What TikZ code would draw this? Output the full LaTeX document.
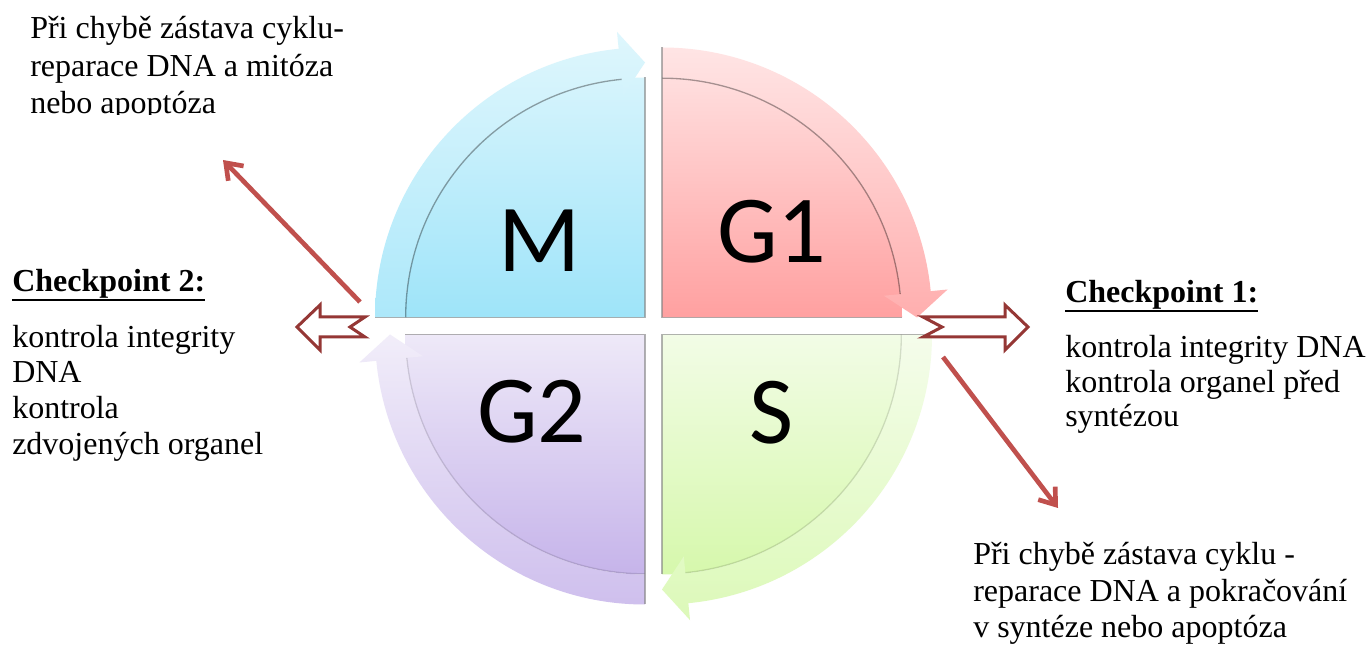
\documentclass[tikz,border=0pt]{standalone}
\usepackage{fontspec}
\setmainfont{Liberation Serif}
\newfontfamily\labfont{Carlito}
\usetikzlibrary{calc,arrows.meta}
\definecolor{cpred}{HTML}{953735}
\definecolor{arred}{HTML}{C0504D}
\definecolor{Mtop}{RGB}{214,244,252}
\definecolor{Mbot}{RGB}{158,228,249}
\definecolor{Gatop}{RGB}{255,222,222}
\definecolor{Gabot}{RGB}{255,160,160}
\definecolor{Stop}{RGB}{242,252,230}
\definecolor{Sbot}{RGB}{214,248,172}
\definecolor{Gbtop}{RGB}{238,233,248}
\definecolor{Gbbot}{RGB}{198,180,234}
\tikzset{
  qedge/.style={draw=black!50, line width=0.8pt, opacity=0.6},
  qlab/.style={anchor=base, inner sep=0pt, font=\labfont\fontsize{72pt}{80pt}\selectfont},
  txt/.style={anchor=base west, inner sep=0pt, font=\fontsize{24pt}{28pt}\selectfont},
  hdr/.style={anchor=base west, inner sep=0pt, font=\fontsize{24pt}{28pt}\selectfont\bfseries},
  uline/.style={line width=2.2pt, black},
  blockarrow/.style={draw=cpred, fill=white, line width=2.25pt, miter limit=10},
  thinarrow/.style={draw=arred, line width=3.5pt, -{Straight Barb[length=11pt,width=16pt]}},
}
\newcommand\drawquad[5]{%
  \pgfmathsetmacro\aend{#2-90}%
  \pgfmathsetmacro\ahead{#2-90+5.6}%
  \shade[top color=#3, bottom color=#4] (#1) -- ($(#1)+(#2:180pt)$) arc[start angle=#2, end angle=\aend, radius=180pt] -- cycle;
  \shade[top color=#3!80!white, bottom color=#4!85!white]
    ($(#1)+(#2:202.5pt)$) arc[start angle=#2, end angle=\ahead, radius=202.5pt]
    -- ($(#1)+(\ahead:215.25pt)$) -- ($(#1)+(\aend:191.25pt)$) -- ($(#1)+(\ahead:167.25pt)$)
    -- ($(#1)+(\ahead:180pt)$) arc[start angle=\ahead, end angle=#2, radius=180pt] -- cycle;
  \draw[black, opacity=#5, line width=1pt] ($(#1)+(\ahead:179.5pt)$) arc[start angle=\ahead, end angle=#2, radius=179.5pt];
  \draw[qedge] ($(#1)+(#2:202.5pt)$) -- (#1) -- ($(#1)+(\aend:180pt)$);
}
\begin{document}
\begin{tikzpicture}[x=0.75pt,y=0.75pt]
\useasboundingbox[fill=white] (0,0) rectangle (1367,646);
% quadrant corners
\coordinate (cM) at (645,328.5);
\coordinate (cG1) at (662,328.5);
\coordinate (cS) at (662,311.5);
\coordinate (cG2) at (645,311.5);
\drawquad{cM}{180}{Mtop}{Mbot}{0.35}
\drawquad{cG1}{90}{Gatop}{Gabot}{0.35}
\drawquad{cS}{0}{Stop}{Sbot}{0.12}
\drawquad{cG2}{-90}{Gbtop}{Gbbot}{0.12}
% labels
\node[qlab] (lM) at (540,374) {M};
\node[qlab] (lG1) at (772,383) {G1};
\node[qlab] (lS) at (772,202) {S};
\node[qlab] (lG2) at (532,203) {G2};
% checkpoint block arrows
\draw[blockarrow] (297,319) -- (320,341) -- (320,329) -- (365,329) -- (350,319) -- (365,309) -- (320,309) -- (320,296) -- cycle;
\draw[blockarrow] (923,329) -- (942,319) -- (923,309) -- (1005,309) -- (1005,296) -- (1028,319) -- (1005,341) -- (1005,329) -- cycle;
% thin arrows
\coordinate (a1s) at (360,344);
\coordinate (a1e) at (223,486);
\coordinate (a2s) at (943,289);
\coordinate (a2e) at (1058,138);
\draw[thinarrow] (a1s) -- (a1e);
\draw[thinarrow] (a2s) -- (a2e);
% top-left text
\begin{scope}
\clip (0,531) rectangle (420,646);
\node[txt] (t1a) at (30,607) {Při chybě zástava cyklu-};
\node[txt] (t1b) at (30,569) {reparace DNA a mitóza};
\node[txt] (t1c) at (30,532) {nebo apoptóza};
\end{scope}
% checkpoint 2
\node[hdr] (cp2) at (12,354) {Checkpoint 2:};
\draw[uline] ($(cp2.base west)+(0,-8)$) -- ($(cp2.base east)+(0,-8)$);
\node[txt] (c2a) at (12,298) {kontrola integrity};
\node[txt] (c2b) at (12,263) {DNA};
\node[txt] (c2c) at (12,227) {kontrola};
\node[txt] (c2d) at (12,191) {zdvojených organel};
% checkpoint 1
\node[hdr] (cp1) at (1065,343) {Checkpoint 1:};
\draw[uline] ($(cp1.base west)+(0,-8)$) -- ($(cp1.base east)+(0,-8)$);
\node[txt] (c1a) at (1065,288) {kontrola integrity DNA};
\node[txt] (c1b) at (1065,253) {kontrola organel před};
\node[txt] (c1c) at (1065,219) {syntézou};
% bottom-right text
\node[txt] (t2a) at (973,81) {Při chybě zástava cyklu -};
\node[txt] (t2b) at (973,44) {reparace DNA a pokračování};
\node[txt] (t2c) at (973,8) {v syntéze nebo apoptóza};
\end{tikzpicture}
\end{document}
